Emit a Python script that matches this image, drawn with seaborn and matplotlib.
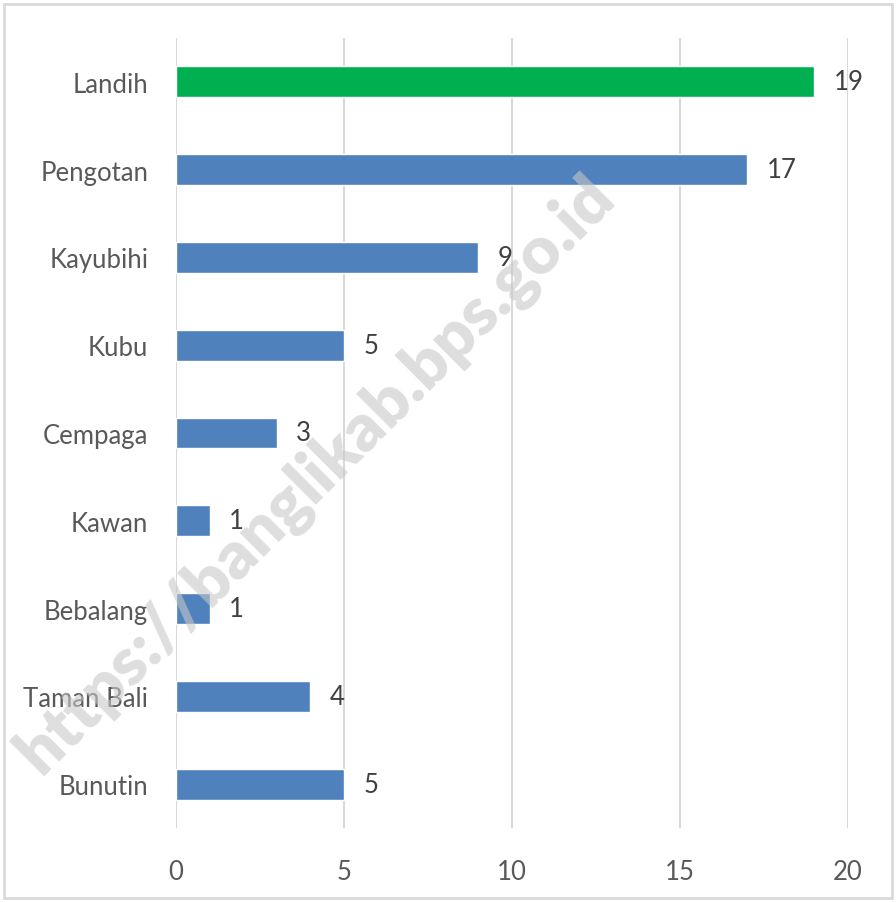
import matplotlib
matplotlib.use("Agg")
import matplotlib.pyplot as plt
import seaborn as sns
import pandas as pd
from matplotlib.patches import Rectangle

### Données
desa = ["Landih", "Pengotan", "Kayubihi", "Kubu", "Cempaga",
        "Kawan", "Bebalang", "Taman Bali", "Bunutin"]
jumlah = [19, 17, 9, 5, 3, 1, 1, 4, 5]
warna = ["#00b050"] + ["#4f81bd"] * 8

df = pd.DataFrame({"Desa": desa, "Jumlah": jumlah})

sns.set_style("white")
plt.rcParams["font.family"] = ["Lato", "DejaVu Sans"]

fig = plt.figure(figsize=(8.96, 9.03), dpi=100)
ax = fig.add_axes([0.1964, 0.0819, 0.75, 0.875])

sns.barplot(data=df, y="Desa", x="Jumlah", hue="Desa", palette=warna,
            order=desa, hue_order=desa, legend=False, width=0.35,
            saturation=1, ax=ax, zorder=3)

ax.set_xlim(0, 20)
ax.set_xticks([0, 5, 10, 15, 20])
ax.xaxis.grid(True, color="#d9d9d9", linewidth=1.5, zorder=0)
ax.yaxis.grid(False)
ax.set_axisbelow(True)
for s in ax.spines.values():
    s.set_visible(False)
ax.set_xlabel("")
ax.set_ylabel("")
ax.tick_params(axis="x", length=0, pad=22, labelsize=18.5, labelcolor="#595959")
ax.tick_params(axis="y", length=0, pad=20, labelsize=18.5, labelcolor="#595959")

# étiquettes de valeur
for c in ax.containers:
    ax.bar_label(c, padding=14, fontsize=18.5, color="#404040")

# filigrane
fig.text(0.352, 0.474, "https://banglikab.bps.go.id", rotation=45,
         fontsize=48, fontweight="heavy", color="#c8c8c8", alpha=0.6,
         ha="center", va="center", zorder=10)

# bordure du graphique
fig.patches.append(Rectangle((0.004, 0.004), 0.992, 0.991, transform=fig.transFigure,
                             fill=False, edgecolor="#d9d9d9", linewidth=2))

plt.savefig("out.png", dpi=100)
